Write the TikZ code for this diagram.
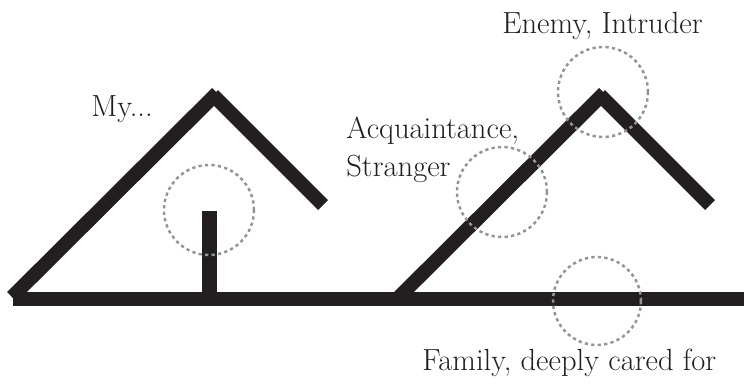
\documentclass[tikz,border=0pt]{standalone}
\usepackage{tikz}
\usetikzlibrary{positioning}
\definecolor{roofblack}{HTML}{231F20}
\definecolor{ringgray}{HTML}{939598}

\begin{document}
\begin{tikzpicture}[x=0.02cm, y=-0.02cm,
    every node/.style={font=\fontsize{17.4}{21.6}\selectfont, text=roofblack, inner sep=0pt},
    beam/.style={draw=roofblack, line width=0.28cm},
    ring/.style={draw=ringgray, line width=0.05cm, dash pattern=on 0.065cm off 0.065cm}]
  \useasboundingbox (0,0) rectangle (744,383);
  % eigen huis
  \coordinate (myfoot) at (12,297);
  \coordinate (mytopl) at (217,93);
  \coordinate (mytopr) at (213,95);
  \coordinate (myeave) at (323,205);
  \coordinate (mypost) at (209.5,211);
  \coordinate (mypostb) at (209.5,299);
  \draw[beam] (myfoot) -- (mytopl);
  \draw[beam] (mytopr) -- (myeave);
  \draw[beam, line width=0.3cm] (mypost) -- (mypostb);
  % huis van de ander
  \coordinate (otfoot) at (399,297);
  \coordinate (ottopl) at (604,93);
  \coordinate (ottopr) at (600,95);
  \coordinate (oteave) at (710,205);
  \draw[beam] (otfoot) -- (ottopl);
  \draw[beam] (ottopr) -- (oteave);
  % grondlijn
  \coordinate (groundl) at (13,299);
  \coordinate (groundr) at (744,299);
  \draw[beam] (groundl) -- (groundr);
  % cirkels
  \draw[ring] (209,210) circle[radius=0.9cm];
  \draw[ring] (502,192) circle[radius=0.9cm];
  \draw[ring] (603,92) circle[radius=0.9cm];
  \draw[ring] (597,301) circle[radius=0.88cm];
  % teksten
  \node[anchor=base west] (my) at (91,116) {My...};
  \node[anchor=base west] (enemy) at (502,33) {Enemy, Intruder};
  \node[anchor=north west, align=left] (stranger) at (346,117) {Acquaintance,\\Stranger};
  \node[anchor=base west] (family) at (422,370) {Family, deeply cared for};
\end{tikzpicture}
\end{document}
